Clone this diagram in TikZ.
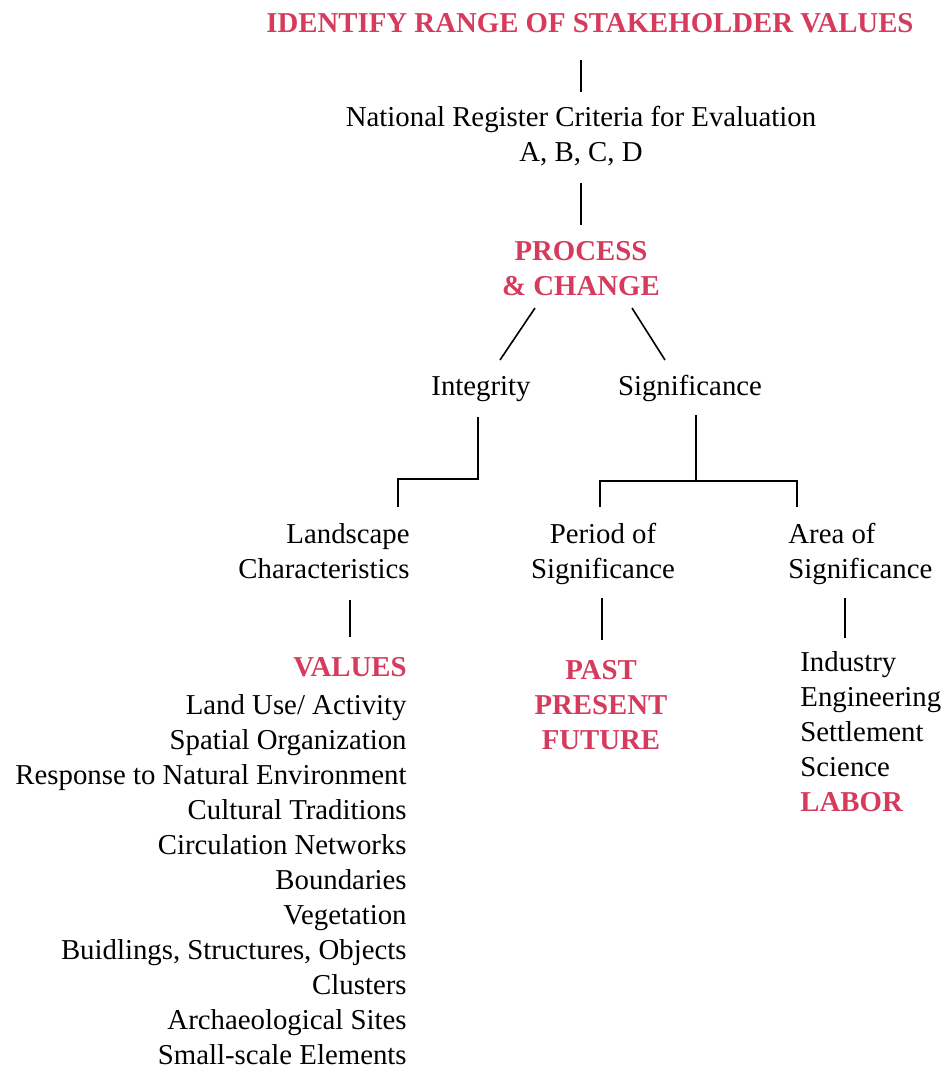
\documentclass[tikz,border=0pt]{standalone}
\usepackage{fontspec}
\setmainfont{Liberation Serif}
\usepackage{xcolor}
\usetikzlibrary{calc}
\definecolor{acred}{HTML}{D63A5C}

\begin{document}
\begin{tikzpicture}[x=0.5pt, y=-0.5pt,
  txt/.style={inner sep=0pt, font=\fontsize{14.4}{17.5}\selectfont},
  hd/.style={txt, text=acred, font=\fontsize{14.4}{17.5}\selectfont\bfseries},
  link/.style={line width=0.8pt}]
\useasboundingbox (0,0) rectangle (942,1071);

% top of the tree (base = last line)
\node[hd, anchor=base] (title) at (590,32) {IDENTIFY RANGE OF STAKEHOLDER VALUES};
\node[txt, anchor=base, align=center] (nrc) at (581,161) {National Register Criteria for Evaluation\\A, B, C, D};
\node[hd, anchor=base, align=center] (proc) at (581,295) {PROCESS\\\& CHANGE};
\node[txt, anchor=base] (integ) at (481,395) {Integrity};
\node[txt, anchor=base] (signif) at (690,395) {Significance};

% second level
\node[txt, anchor=base east, align=right] (land) at (410,578) {Landscape\\Characteristics};
\node[txt, anchor=base, align=center] (period) at (603,578) {Period of\\Significance};
\node[txt, anchor=base west, align=left] (area) at (788,578) {Area of\\Significance};

% lists
\node[txt, anchor=base east, align=right] (values) at (407,1064) {\textcolor{acred}{\textbf{VALUES}}\\[1.5pt]Land Use/ Activity\\Spatial Organization\\Response to Natural Environment\\Cultural Traditions\\Circulation Networks\\Boundaries\\Vegetation\\Buidlings, Structures, Objects\\Clusters\\Archaeological Sites\\Small-scale Elements};
\node[hd, anchor=base, align=center] (past) at (601,749) {PAST\\PRESENT\\FUTURE};
\node[txt, anchor=base west, align=left] (indus) at (800,811) {Industry\\Engineering\\Settlement\\Science\\\textcolor{acred}{\textbf{LABOR}}};

% connectors
\draw[link] ($(title.base -| nrc.base)+(0,28)$) -- ($(nrc.base)+(0,-69)$);
\draw[link] ($(nrc.base)+(0,22)$) -- ($(proc.base)+(0,-70)$);
\draw[link] ($(proc.base)+(-46,13)$) -- ($(integ.base)+(19,-35)$);
\draw[link] ($(proc.base)+(51,13)$) -- ($(signif.base)+(-25,-35)$);
\draw[link] ($(integ.base)+(-3,22)$) |- ($(land.base east)+(-12,-99)$) -- ($(land.base east)+(-12,-71)$);
\draw[link] ($(signif.base)+(6,20)$) -- ($(signif.base)+(6,86)$);
\draw[link] ($(period.base)+(-3,-71)$) |- ($(area.base west)+(9,-97)$) -- ($(area.base west)+(9,-71)$);
\draw[link] ($(land.base east)+(-60,22)$) -- ($(values.base east)+(-57,-427)$);
\draw[link] ($(period.base)+(-1,20)$) -- ($(past.base)+(1,-109)$);
\draw[link] ($(area.base west)+(57,20)$) -- ($(indus.base west)+(45,-173)$);
\end{tikzpicture}
\end{document}
